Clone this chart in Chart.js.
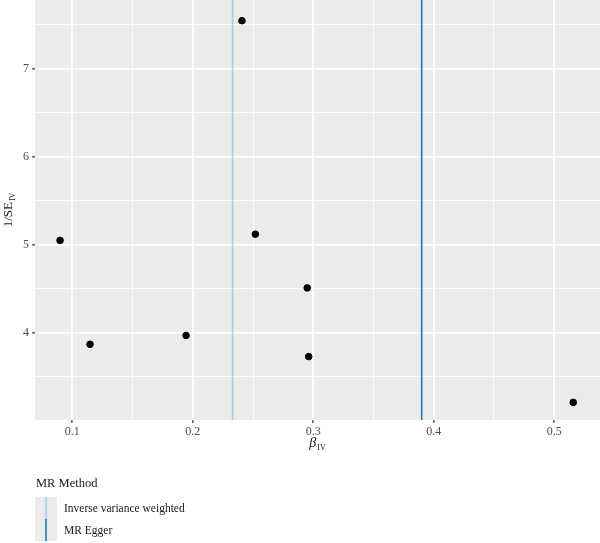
<!DOCTYPE html>
<html>
<head>
<meta charset="utf-8">
<script src="https://cdn.jsdelivr.net/npm/chart.js@4/dist/chart.umd.min.js"></script>
<style>
html,body{margin:0;padding:0;background:#fff;}
#wrap{position:relative;width:600px;height:543px;}
</style>
</head>
<body>
<div id="wrap"><canvas id="c" width="600" height="543"></canvas></div>
<script>
// ---- data ----
const betaIV = [0.0898, 0.1147, 0.1944, 0.2408, 0.2519, 0.2950, 0.2962, 0.5158];
const invSE  = [5.05,   3.87,   3.97,   7.545,  5.12,   4.51,   3.73,   3.21];
const methodNames = ["Inverse variance weighted", "MR Egger"];
const methodEstimates = [0.233, 0.390];
const methodColors = ["#a6cee3", "#1f78b4"];
const xMajorTicks = [0.1, 0.2, 0.3, 0.4, 0.5];
const xMinorTicks = [0.15, 0.25, 0.35, 0.45];
const yMajorTicks = [4, 5, 6, 7];
const yMinorTicks = [3.5, 4.5, 5.5, 6.5, 7.5];
const xRange = [0.069, 0.538];
const yRange = [3.01, 7.78];

const FONT = "'Liberation Serif', 'DejaVu Serif', serif";

const points = betaIV.map((b, i) => ({x: b, y: invSE[i]}));
const lineSets = methodEstimates.map((est, i) => ({
  type: 'line',
  label: methodNames[i],
  data: [{x: est, y: yRange[0]}, {x: est, y: yRange[1]}],
  borderColor: methodColors[i],
  borderWidth: 1.6,
  pointRadius: 0,
  fill: false,
  order: 2
}));

function isMajor(list, v){ return list.some(t => Math.abs(t - v) < 1e-9); }

const bgPlugin = {
  id: 'panelBg',
  beforeDraw(chart){
    const {ctx, chartArea:a} = chart;
    ctx.save();
    ctx.fillStyle = '#ebebeb';
    ctx.fillRect(a.left, a.top, a.right - a.left, a.bottom - a.top);
    ctx.restore();
  }
};

const decoPlugin = {
  id: 'deco',
  afterDraw(chart){
    const {ctx, chartArea:a} = chart;
    ctx.save();
    ctx.fillStyle = '#1a1a1a';
    // x title: beta_IV
    const cx = (a.left + a.right) / 2;
    ctx.textBaseline = 'alphabetic';
    ctx.font = "italic 14px " + FONT;
    const bw = ctx.measureText('β').width;
    ctx.font = "8px " + FONT;
    const sw = ctx.measureText('IV').width;
    let x0 = cx - (bw + sw + 1) / 2;
    ctx.font = "italic 14px " + FONT;
    ctx.textAlign = 'left';
    ctx.fillText('β', x0, 447);
    ctx.font = "8px " + FONT;
    ctx.fillText('IV', x0 + bw + 1, 450);
    // y title: 1/SE_IV rotated
    ctx.save();
    const cy = (a.top + a.bottom) / 2;
    ctx.translate(12, cy);
    ctx.rotate(-Math.PI / 2);
    ctx.font = "13px " + FONT;
    const tw = ctx.measureText('1/SE').width;
    ctx.font = "8px " + FONT;
    const tw2 = ctx.measureText('IV').width;
    let y0 = -(tw + tw2 + 1) / 2;
    ctx.font = "13px " + FONT;
    ctx.fillText('1/SE', y0, 0);
    ctx.font = "8px " + FONT;
    ctx.fillText('IV', y0 + tw + 1, 3);
    ctx.restore();
    // legend
    ctx.font = "12.5px " + FONT;
    ctx.textAlign = 'left';
    ctx.textBaseline = 'middle';
    ctx.fillText('MR Method', 36, 484);
    const keyX = 35, keyW = 22, keyH = 22, keyY0 = 497;
    methodNames.forEach((name, i) => {
      const ky = keyY0 + i * keyH;
      ctx.fillStyle = '#ebebeb';
      ctx.fillRect(keyX, ky, keyW, keyH);
      ctx.strokeStyle = methodColors[i];
      ctx.lineWidth = 1.6;
      ctx.beginPath();
      ctx.moveTo(keyX + 11, ky);
      ctx.lineTo(keyX + 11, ky + keyH);
      ctx.stroke();
      ctx.fillStyle = '#1a1a1a';
      ctx.font = "11.5px " + FONT;
      ctx.fillText(name, 64, ky + 12);
    });
    ctx.restore();
  }
};

new Chart(document.getElementById('c'), {
  type: 'scatter',
  data: {
    datasets: [
      {
        type: 'scatter',
        label: 'SNPs',
        data: points,
        backgroundColor: '#000',
        borderColor: '#000',
        pointRadius: 3.3,
        pointHoverRadius: 3.3,
        order: 1
      },
      ...lineSets
    ]
  },
  options: {
    responsive: false,
    animation: false,
    devicePixelRatio: 1,
    layout: {autoPadding: false, padding: {left: 0, right: 0, top: 0, bottom: 93}},
    plugins: {legend: {display: false}, tooltip: {enabled: false}},
    scales: {
      x: {
        type: 'linear',
        min: xRange[0], max: xRange[1],
        afterBuildTicks(scale){
          scale.ticks = [...xMajorTicks, ...xMinorTicks].sort((a,b)=>a-b).map(v => ({value: v}));
        },
        afterFit(scale){ scale.height = 30; scale.paddingLeft = 0; scale.paddingRight = 0; },
        border: {display: false},
        grid: {
          color: '#ffffff',
          lineWidth: c => isMajor(xMajorTicks, c.tick.value) ? 1.8 : 0.8,
          drawTicks: true,
          tickLength: 3,
          tickColor: c => isMajor(xMajorTicks, c.tick.value) ? '#333333' : 'rgba(0,0,0,0)',
          tickWidth: 1.2
        },
        ticks: {
          autoSkip: false,
          maxRotation: 0,
          padding: 2,
          color: '#4d4d4d',
          font: {family: FONT, size: 12},
          callback: v => isMajor(xMajorTicks, v) ? String(v) : ''
        }
      },
      y: {
        type: 'linear',
        min: yRange[0], max: yRange[1],
        afterBuildTicks(scale){
          scale.ticks = [...yMajorTicks, ...yMinorTicks].sort((a,b)=>a-b).map(v => ({value: v}));
        },
        afterFit(scale){ scale.width = 35; scale.paddingTop = 0; scale.paddingBottom = 0; },
        border: {display: false},
        grid: {
          color: '#ffffff',
          lineWidth: c => isMajor(yMajorTicks, c.tick.value) ? 1.8 : 0.8,
          drawTicks: true,
          tickLength: 3,
          tickColor: c => isMajor(yMajorTicks, c.tick.value) ? '#333333' : 'rgba(0,0,0,0)',
          tickWidth: 1.2
        },
        ticks: {
          autoSkip: false,
          padding: 3,
          color: '#4d4d4d',
          font: {family: FONT, size: 12},
          callback: v => isMajor(yMajorTicks, v) ? String(v) : ''
        }
      }
    }
  },
  plugins: [bgPlugin, decoPlugin]
});
</script>
</body>
</html>
